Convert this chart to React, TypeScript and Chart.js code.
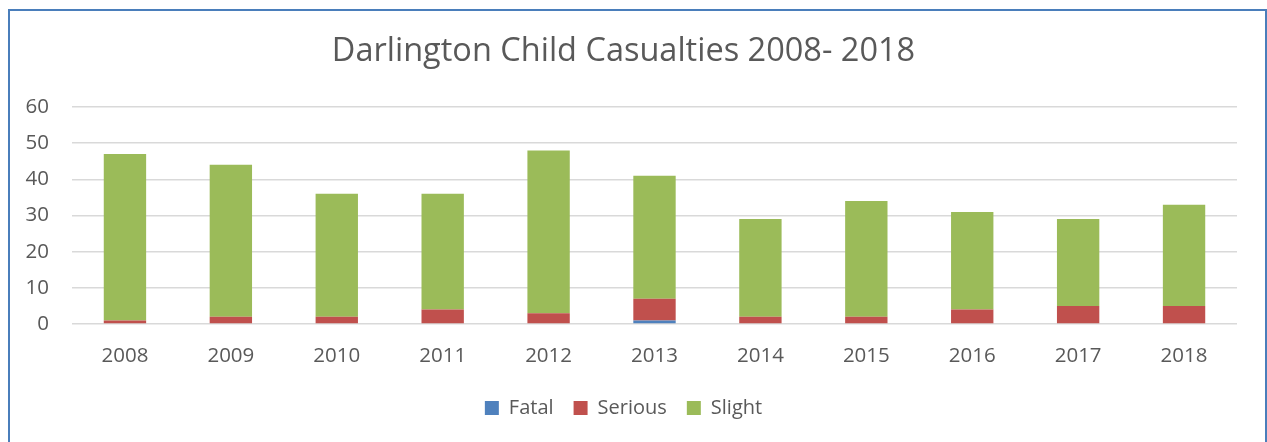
import React, { useEffect, useRef } from "react";
import { Chart, registerables } from "chart.js";

Chart.register(...registerables);

const years = ["2008", "2009", "2010", "2011", "2012", "2013", "2014", "2015", "2016", "2017", "2018"];
const fatal = [0, 0, 0, 0, 0, 1, 0, 0, 0, 0, 0];
const serious = [1, 2, 2, 4, 3, 6, 2, 2, 4, 5, 5];
const slight = [46, 42, 34, 32, 45, 34, 27, 32, 27, 24, 28];

const FONT = "'Open Sans', 'Liberation Sans', sans-serif";
const TEXT = "#595959";

export default function App() {
  const ref = useRef<HTMLCanvasElement | null>(null);

  useEffect(() => {
    if (!ref.current) return;
    const chart = new Chart(ref.current, {
      type: "bar",
      data: {
        labels: years,
        datasets: [
          { label: "Fatal", data: fatal, backgroundColor: "#4F81BD" },
          { label: "Serious", data: serious, backgroundColor: "#C0504D" },
          { label: "Slight", data: slight, backgroundColor: "#9BBB59" },
        ],
      },
      options: {
        animation: false,
        responsive: false,
        maintainAspectRatio: false,
        datasets: { bar: { categoryPercentage: 1, barPercentage: 0.4 } },
        layout: { padding: { left: 0, right: 28, top: 0, bottom: 14 } },
        plugins: {
          title: {
            display: true,
            text: "Darlington Child Casualties 2008- 2018",
            color: TEXT,
            font: { family: FONT, size: 32.5, weight: "normal" },
            padding: { top: 21.5, bottom: 35.5 },
          },
          legend: {
            position: "bottom",
            labels: {
              color: TEXT,
              font: { family: FONT, size: 20 },
              boxWidth: 14,
              boxHeight: 14,
              padding: 20,
            },
          },
          tooltip: { enabled: false },
        },
        scales: {
          x: {
            stacked: true,
            grid: { display: false, drawTicks: false },
            border: { display: false },
            ticks: { color: TEXT, font: { family: FONT, size: 20.5 }, padding: 20, maxRotation: 0 },
            afterFit: (s: any) => {
              s.height = 54;
            },
          },
          y: {
            stacked: true,
            min: 0,
            max: 60,
            grid: { color: "#D9D9D9", lineWidth: 1.5, drawTicks: false },
            border: { display: false },
            ticks: { stepSize: 10, color: TEXT, font: { family: FONT, size: 20.5 }, padding: 23 },
            afterFit: (s: any) => {
              s.width = 62;
            },
          },
        },
      },
    });
    return () => chart.destroy();
  }, []);

  return (
    <div
      style={{
        position: "fixed",
        left: 8,
        top: 9,
        width: 1255,
        height: 433,
        overflow: "hidden",
        borderTop: "2px solid #4A7EBB",
        borderLeft: "2px solid #4A7EBB",
        borderRight: "2px solid #4A7EBB",
        background: "#fff",
      }}
    >
      <canvas ref={ref} width={1255} height={431} style={{ display: "block" }} />
    </div>
  );
}
